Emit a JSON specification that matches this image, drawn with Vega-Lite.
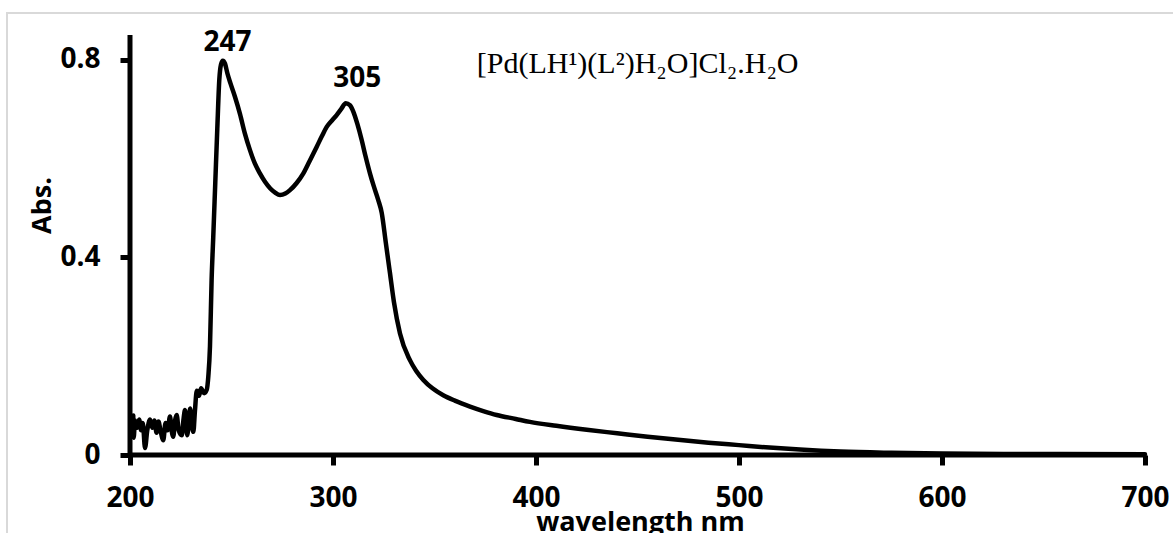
{
  "$schema": "https://vega.github.io/schema/vega-lite/v6.json",
  "width": 1168,
  "height": 522,
  "autosize": {"type": "none"},
  "padding": {"left": 7, "top": 13, "right": -2, "bottom": -2},
  "background": "white",
  "config": {"view": {"stroke": "#d9d9d9", "strokeWidth": 2}, "font": "Open Sans"},
  "datasets": {
    "spectrum": [
      {"nm": 201.6, "abs": 0.08}, {"nm": 201.8, "abs": 0.035}, {"nm": 202.5, "abs": 0.07}, {"nm": 203.5, "abs": 0.055},
      {"nm": 204.5, "abs": 0.072}, {"nm": 205.5, "abs": 0.05}, {"nm": 206.3, "abs": 0.065}, {"nm": 207.4, "abs": 0.014},
      {"nm": 208.5, "abs": 0.05}, {"nm": 209.9, "abs": 0.072}, {"nm": 211, "abs": 0.055}, {"nm": 212, "abs": 0.07},
      {"nm": 213.1, "abs": 0.045}, {"nm": 214, "abs": 0.068}, {"nm": 215, "abs": 0.05}, {"nm": 216.4, "abs": 0.03},
      {"nm": 217.5, "abs": 0.065}, {"nm": 218.5, "abs": 0.05}, {"nm": 219.7, "abs": 0.078}, {"nm": 220.5, "abs": 0.05},
      {"nm": 221.3, "abs": 0.037}, {"nm": 222.2, "abs": 0.07}, {"nm": 223, "abs": 0.081}, {"nm": 224, "abs": 0.05},
      {"nm": 225.5, "abs": 0.04}, {"nm": 226.3, "abs": 0.07}, {"nm": 227.1, "abs": 0.091}, {"nm": 228.2, "abs": 0.04},
      {"nm": 229.6, "abs": 0.094}, {"nm": 230.5, "abs": 0.06}, {"nm": 231.2, "abs": 0.047}, {"nm": 232, "abs": 0.09},
      {"nm": 232.9, "abs": 0.13}, {"nm": 234, "abs": 0.12}, {"nm": 235, "abs": 0.135}, {"nm": 236.5, "abs": 0.125},
      {"nm": 237.8, "abs": 0.132}, {"nm": 238.6, "abs": 0.16}, {"nm": 239.4, "abs": 0.22}, {"nm": 240.2, "abs": 0.354},
      {"nm": 241, "abs": 0.44}, {"nm": 242, "abs": 0.55}, {"nm": 243, "abs": 0.66}, {"nm": 244, "abs": 0.76},
      {"nm": 244.8, "abs": 0.79}, {"nm": 245.7, "abs": 0.798}, {"nm": 246.8, "abs": 0.792}, {"nm": 248, "abs": 0.772},
      {"nm": 249.5, "abs": 0.752}, {"nm": 251.7, "abs": 0.725}, {"nm": 254.2, "abs": 0.69}, {"nm": 256.5, "abs": 0.652},
      {"nm": 259.1, "abs": 0.617}, {"nm": 261.5, "abs": 0.59}, {"nm": 264, "abs": 0.57}, {"nm": 266.5, "abs": 0.553},
      {"nm": 269, "abs": 0.54}, {"nm": 271.5, "abs": 0.531}, {"nm": 273.9, "abs": 0.526}, {"nm": 276.5, "abs": 0.529},
      {"nm": 278.8, "abs": 0.536}, {"nm": 282, "abs": 0.55}, {"nm": 285.4, "abs": 0.57}, {"nm": 288.5, "abs": 0.595},
      {"nm": 292, "abs": 0.624}, {"nm": 294.5, "abs": 0.645}, {"nm": 296.9, "abs": 0.664}, {"nm": 299.5, "abs": 0.677},
      {"nm": 301.8, "abs": 0.688}, {"nm": 304, "abs": 0.7}, {"nm": 306.3, "abs": 0.712}, {"nm": 308.3, "abs": 0.708},
      {"nm": 310, "abs": 0.695}, {"nm": 312, "abs": 0.67}, {"nm": 314.1, "abs": 0.638}, {"nm": 316, "abs": 0.605},
      {"nm": 318.2, "abs": 0.57}, {"nm": 320, "abs": 0.545}, {"nm": 322.3, "abs": 0.516}, {"nm": 324, "abs": 0.49},
      {"nm": 326, "abs": 0.43}, {"nm": 328, "abs": 0.37}, {"nm": 330, "abs": 0.31}, {"nm": 333, "abs": 0.246},
      {"nm": 337.9, "abs": 0.192}, {"nm": 341, "abs": 0.17}, {"nm": 344.5, "abs": 0.152}, {"nm": 349, "abs": 0.135},
      {"nm": 354.3, "abs": 0.121}, {"nm": 360, "abs": 0.11}, {"nm": 367.5, "abs": 0.098}, {"nm": 374, "abs": 0.089},
      {"nm": 380.6, "abs": 0.081}, {"nm": 390, "abs": 0.073}, {"nm": 397, "abs": 0.067}, {"nm": 410, "abs": 0.059},
      {"nm": 425, "abs": 0.051}, {"nm": 440, "abs": 0.044}, {"nm": 455, "abs": 0.037}, {"nm": 470, "abs": 0.031},
      {"nm": 485, "abs": 0.025}, {"nm": 500, "abs": 0.02}, {"nm": 515, "abs": 0.015}, {"nm": 530, "abs": 0.011},
      {"nm": 550, "abs": 0.007}, {"nm": 575, "abs": 0.0045}, {"nm": 600, "abs": 0.003}, {"nm": 650, "abs": 0.002},
      {"nm": 700, "abs": 0.0015}
    ],
    "peaks": [
      {"nm": 248, "abs": 0.833, "label": "247"},
      {"nm": 312, "abs": 0.76, "label": "305"}
    ],
    "compound": [
      {"nm": 370.8, "abs": 0.773, "label": "[Pd(LH¹)(L²)H₂O]Cl₂.H₂O"}
    ],
    "axisframe": [
      {"x1": 200, "x2": 700, "y1": 0, "y2": 0},
      {"x1": 200, "x2": 200, "y1": 0, "y2": 0.85}
    ]
  },
  "layer": [
    {
      "data": {"name": "spectrum"},
      "mark": {"type": "line", "color": "black", "strokeWidth": 4.5, "strokeJoin": "round", "strokeCap": "round", "interpolate": "monotone", "clip": true},
      "encoding": {
        "x": {
          "field": "nm", "type": "quantitative",
          "scale": {"domain": [139.409, 714.778], "nice": false, "zero": false},
          "axis": {
            "values": [200, 300, 400, 500, 600, 700],
            "offset": -80, "domain": false, "grid": false,
            "tickSize": 10, "tickWidth": 5, "tickColor": "black",
            "labelFont": "Open Sans", "labelFontWeight": "bold", "labelFontSize": 28, "labelColor": "black",
            "labelPadding": 19, "labelFlush": false, "labelOverlap": false,
            "title": "wavelength nm", "titleFont": "Open Sans", "titleFontWeight": "bold", "titleFontSize": 27,
            "titleColor": "black", "titleX": 633, "titleY": 75, "titleBaseline": "alphabetic", "titleAlign": "center"
          }
        },
        "y": {
          "field": "abs", "type": "quantitative",
          "scale": {"domain": [-0.1619, 0.8945], "nice": false, "zero": false},
          "axis": {
            "values": [0, 0.4, 0.8], "format": "~g",
            "offset": -123, "domain": false, "grid": false,
            "tickSize": 10, "tickWidth": 5, "tickColor": "black",
            "labelFont": "Open Sans", "labelFontWeight": "bold", "labelFontSize": 28, "labelColor": "black",
            "labelPadding": 20, "labelFlush": false, "labelOverlap": false,
            "title": "Abs.", "titleFont": "Open Sans", "titleFontWeight": "bold", "titleFontSize": 27,
            "titleColor": "black", "titleX": -88, "titleY": 192, "titleAngle": -90, "titleBaseline": "middle", "titleAlign": "center"
          }
        }
      }
    },
    {
      "data": {"name": "axisframe"},
      "mark": {"type": "rule", "color": "black", "strokeWidth": 5, "strokeCap": "butt"},
      "encoding": {
        "x": {"field": "x1", "type": "quantitative"},
        "x2": {"field": "x2"},
        "y": {"field": "y1", "type": "quantitative"},
        "y2": {"field": "y2"}
      }
    },
    {
      "data": {"name": "peaks"},
      "mark": {"type": "text", "font": "Open Sans", "fontWeight": "bold", "fontSize": 28, "color": "black", "align": "center", "baseline": "middle"},
      "encoding": {
        "x": {"field": "nm", "type": "quantitative"},
        "y": {"field": "abs", "type": "quantitative"},
        "text": {"field": "label"}
      }
    },
    {
      "data": {"name": "compound"},
      "mark": {"type": "text", "font": "Liberation Serif", "fontSize": 30, "color": "black", "align": "left", "baseline": "alphabetic"},
      "encoding": {
        "x": {"field": "nm", "type": "quantitative"},
        "y": {"field": "abs", "type": "quantitative"},
        "text": {"field": "label"}
      }
    }
  ]
}
